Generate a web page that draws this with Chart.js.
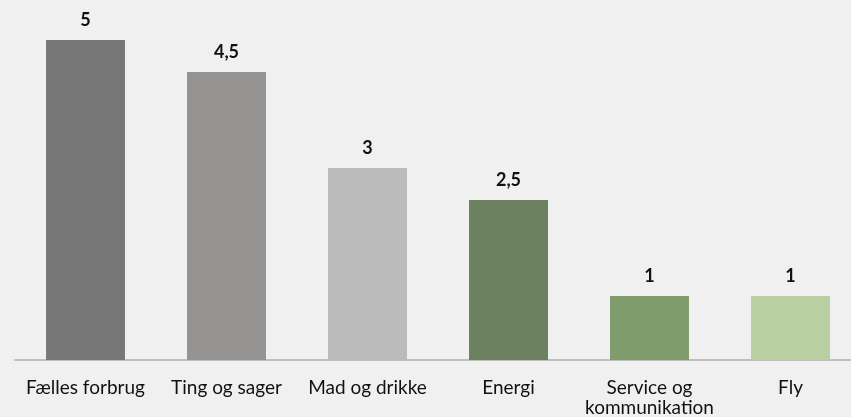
<!DOCTYPE html>
<html>
<head>
<meta charset="utf-8">
<script src="https://cdn.jsdelivr.net/npm/chart.js@4/dist/chart.umd.min.js"></script>
<style>
  html, body { margin: 0; padding: 0; background: #f0f0f0; overflow: hidden; }
  #wrap { position: relative; width: 861px; height: 417px; }
</style>
</head>
<body>
<div id="wrap"><canvas id="chart"></canvas></div>
<script>
// categories and values
const categories = ["Fælles forbrug", "Ting og sager", "Mad og drikke", "Energi", ["Service og", "kommunikation"], "Fly"];
const values = [5, 4.5, 3, 2.5, 1, 1];
const valueLabels = ["5", "4,5", "3", "2,5", "1", "1"];
const barColors = ["#777777", "#949391", "#bcbbbb", "#6b8160", "#7f9d6c", "#b8d0a1"];

const FONT = "Lato, 'Open Sans', sans-serif";

// draws the value above each bar
const valueLabelPlugin = {
    id: "valueLabels",
    afterDatasetsDraw(chart) {
        const ctx = chart.ctx;
        const meta = chart.getDatasetMeta(0);
        ctx.save();
        ctx.font = "bold 18px " + FONT;
        ctx.fillStyle = "#111111";
        ctx.textAlign = "center";
        ctx.textBaseline = "alphabetic";
        meta.data.forEach((bar, i) => {
            ctx.fillText(valueLabels[i], bar.x, bar.y - 14);
        });
        ctx.restore();
    }
};

new Chart(document.getElementById("chart"), {
    type: "bar",
    data: {
        labels: categories,
        datasets: [{
            data: values,
            backgroundColor: barColors,
            barPercentage: 0.56,
            categoryPercentage: 1
        }]
    },
    options: {
        responsive: true,
        maintainAspectRatio: false,
        animation: false,
        layout: { padding: { top: 40, left: 15, right: 0, bottom: 0 } },
        plugins: { legend: { display: false }, tooltip: { enabled: false } },
        scales: {
            x: {
                grid: { display: false },
                border: { display: true, color: "#bfbfbf", width: 2 },
                ticks: {
                    color: "#111111",
                    padding: 10,
                    maxRotation: 0,
                    autoSkip: false,
                    font: { family: FONT, size: 19, lineHeight: 1.05 }
                },
                // keep the label band a fixed height so the baseline sits at y=360
                afterFit(scale) { scale.height = 57; }
            },
            y: {
                display: false,
                min: 0,
                max: 5
            }
        }
    },
    plugins: [valueLabelPlugin]
});
</script>
</body>
</html>
